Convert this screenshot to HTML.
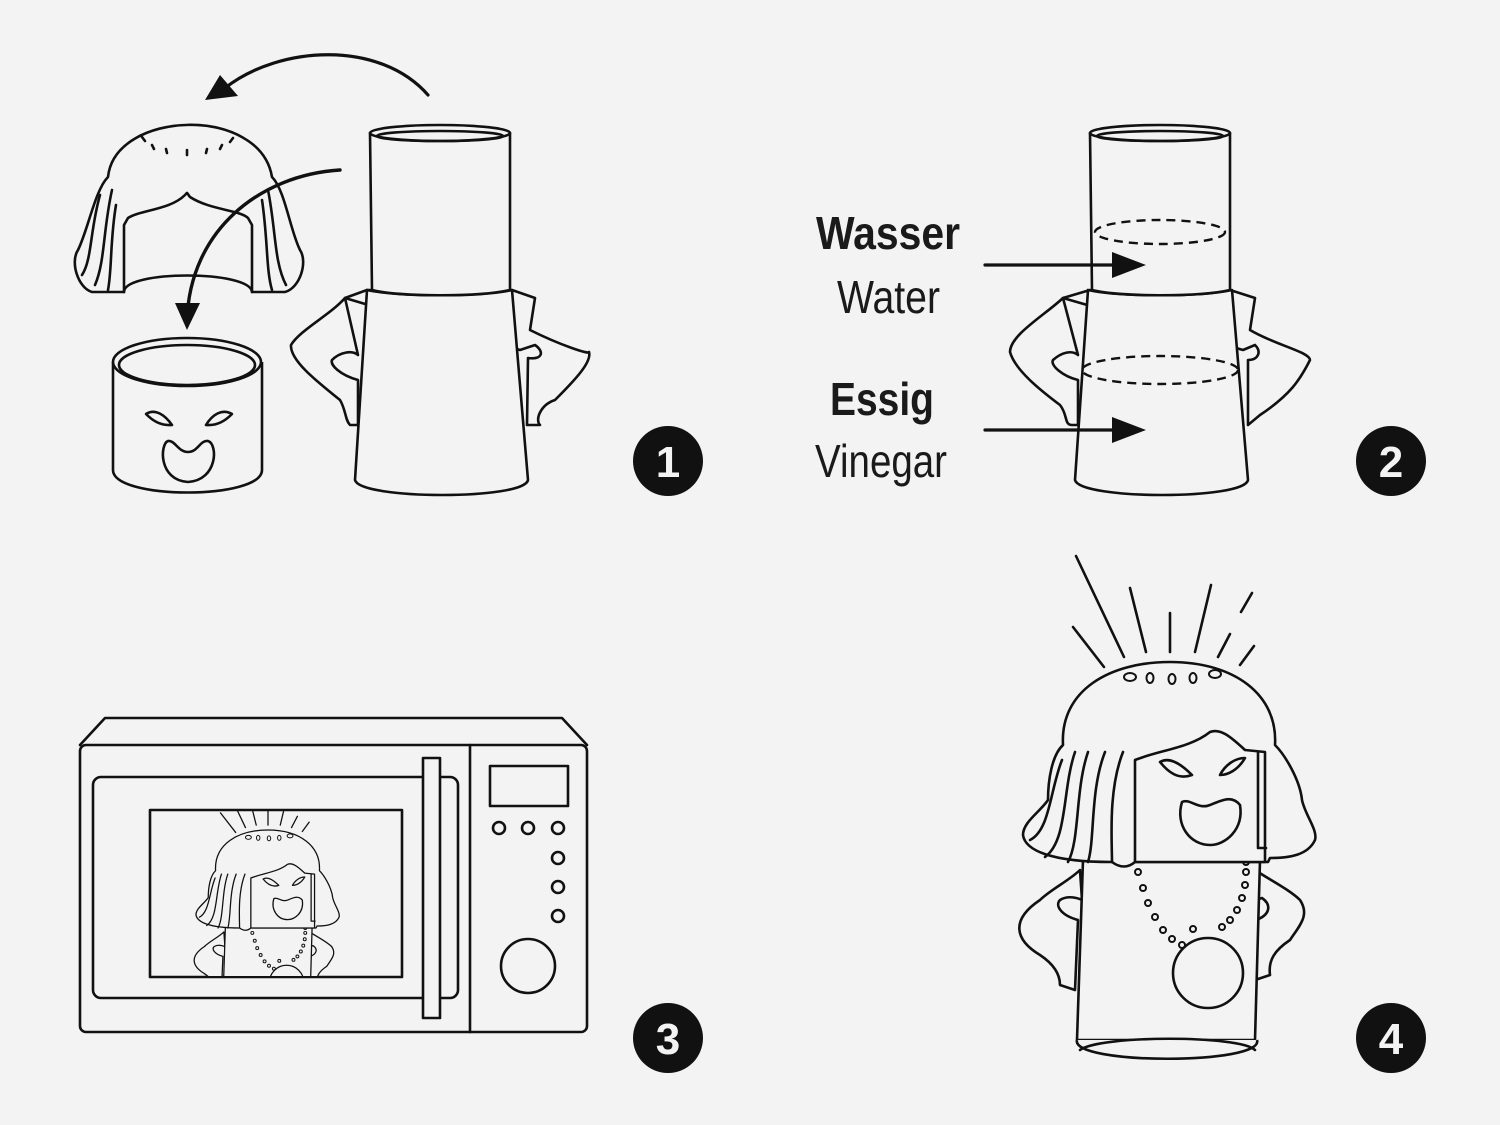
<!DOCTYPE html>
<html><head><meta charset="utf-8"><style>
html,body{margin:0;padding:0;background:#f3f3f3;}
svg{display:block}
.s{fill:none;stroke:#111;stroke-width:2.6;stroke-linejoin:round;stroke-linecap:round}
.w{fill:#f3f3f3;stroke:#111;stroke-width:2.6;stroke-linejoin:round}
.t{fill:#111;stroke:none}
.num{font-family:"Liberation Sans",sans-serif;font-weight:bold;font-size:44px;fill:#f3f3f3;text-anchor:middle}
.lbl{font-family:"Liberation Sans Narrow","Liberation Sans",sans-serif;fill:#1a1a1a}
</style></head><body>
<svg width="1500" height="1125" viewBox="0 0 1500 1125" xmlns="http://www.w3.org/2000/svg">
<defs><clipPath id="win"><rect x="151" y="811" width="250" height="165"/></clipPath></defs>
<rect width="1500" height="1125" fill="#f3f3f3"/>

<!-- PANEL 1 -->
<path class="s" d="M428,95 C380,40 280,45 225,88" style="stroke-width:3.2"/>
<polygon class="t" points="205,100 220,75 238,96"/>
<path class="w" d="M108,177 C115,110 260,105 272,177 C285,190 290,230 300,250 C308,262 300,288 285,292 L252,292 L252,225 L248,218 C240,210 210,210 190,197 C186,192 188,192 185,195 C170,210 140,210 128,218 L124,225 L124,292 L92,292 C78,288 70,262 78,250 C88,230 95,190 108,177 Z"/>
<path class="s" d="M124,292 C124,270 250,270 252,292"/>
<path class="s" d="M100,195 C90,230 92,260 82,275 M112,190 C103,230 105,262 95,285 M116,205 C110,240 112,270 108,290 M268,190 C276,230 274,262 286,285 M262,200 C268,240 266,270 272,290"/>
<path class="s" d="M142,137 l3,4 M152,145 l2,4 M166,149 l1,4 M187,150 l0,5 M207,149 l-1,4 M222,145 l-2,4 M233,138 l-3,4"/>
<path class="s" d="M340,170 C260,175 190,230 187,320" style="stroke-width:3.4"/>
<polygon class="t" points="175,303 200,303 187,330"/>
<path class="w" d="M113,362 L113,470 C113,500 262,500 262,470 L262,362"/>
<ellipse class="w" cx="187" cy="362" rx="74" ry="24"/>
<ellipse class="s" cx="187" cy="365" rx="68" ry="20"/>
<path class="s" d="M146,414 C155,408 165,415 172,425 C160,426 152,420 146,414 Z M232,414 C222,408 212,415 206,425 C218,426 226,420 232,414 Z"/>
<path class="s" d="M168,441 C175,440 178,452 188,452 C198,452 200,440 208,441 C218,444 218,480 188,482 C158,480 160,444 168,441 Z"/>
<path class="w" d="M345,298 L367,290 L512,290 L535,298 L530,330 C560,345 590,355 589,352 C592,362 575,380 555,400 C540,405 535,420 540,425 L527,425 L528,358 C542,360 545,352 535,345 L520,350 Z"/>
<path class="w" d="M345,298 C330,315 300,330 291,345 C290,360 315,380 340,400 C346,410 345,420 350,425 L358,425 L358,380 C340,375 330,365 332,360 C340,352 352,350 358,355 Z"/>
<path class="w" d="M367,290 L355,480 C360,500 525,500 528,480 L512,290 C480,297 400,297 367,290 Z"/>
<path class="w" d="M370,133 L372,290 C400,297 480,297 510,290 L510,133 Z"/>
<ellipse class="w" cx="440" cy="133" rx="70" ry="8"/>
<ellipse class="s" cx="440" cy="136" rx="63" ry="5"/>
<circle cx="668" cy="461" r="35" fill="#111"/>
<text class="num" x="668" y="477">1</text>

<!-- PANEL 2 -->
<path class="w" d="M1063,298 L1090,290 L1230,290 L1255,298 L1250,330 C1275,345 1310,352 1310,360 C1300,380 1290,395 1260,415 L1248,425 L1248,360 C1258,360 1262,352 1255,345 L1243,350 Z"/>
<path class="w" d="M1063,298 C1045,315 1010,335 1010,352 C1015,370 1040,390 1060,405 C1068,415 1064,425 1072,425 L1078,425 L1078,380 C1062,376 1050,365 1053,360 C1062,352 1072,350 1078,355 Z"/>
<path class="w" d="M1088,290 L1075,480 C1080,500 1245,500 1248,480 L1232,290 C1200,297 1120,297 1088,290 Z"/>
<path class="w" d="M1090,133 L1092,290 C1120,297 1200,297 1230,290 L1230,133 Z"/>
<ellipse class="w" cx="1160" cy="133" rx="70" ry="8"/>
<ellipse class="s" cx="1160" cy="136" rx="63" ry="5"/>
<ellipse cx="1160" cy="232" rx="65" ry="12" fill="none" stroke="#111" stroke-width="2.4" stroke-dasharray="9,6"/>
<ellipse cx="1160" cy="370" rx="78" ry="14" fill="none" stroke="#111" stroke-width="2.4" stroke-dasharray="9,6"/>
<text class="lbl" x="816" y="249" font-size="46" font-weight="bold" textLength="144" lengthAdjust="spacingAndGlyphs">Wasser</text>
<text class="lbl" x="837" y="313" font-size="46" textLength="103" lengthAdjust="spacingAndGlyphs">Water</text>
<text class="lbl" x="830" y="415" font-size="46" font-weight="bold" textLength="104" lengthAdjust="spacingAndGlyphs">Essig</text>
<text class="lbl" x="815" y="477" font-size="46" textLength="132" lengthAdjust="spacingAndGlyphs">Vinegar</text>
<line class="s" x1="985" y1="265" x2="1120" y2="265" style="stroke-width:3.2"/>
<polygon class="t" points="1112,252 1146,265 1112,278"/>
<line class="s" x1="985" y1="430" x2="1120" y2="430" style="stroke-width:3.2"/>
<polygon class="t" points="1112,417 1146,430 1112,443"/>
<circle cx="1391" cy="461" r="35" fill="#111"/>
<text class="num" x="1391" y="477">2</text>

<!-- PANEL 3 microwave -->
<path class="s" d="M80,745 L105,718 L562,718 L587,745"/>
<rect class="s" x="80" y="745" width="507" height="287" rx="6"/>
<rect class="s" x="93" y="777" width="365" height="221" rx="8"/>
<rect class="s" x="150" y="810" width="252" height="167"/>
<rect class="w" x="423" y="758" width="17" height="260"/>
<line class="s" x1="470" y1="745" x2="470" y2="1032"/>
<rect class="s" x="490" y="766" width="78" height="40"/>
<g class="s"><circle cx="499" cy="828" r="6"/><circle cx="528" cy="828" r="6"/><circle cx="558" cy="828" r="6"/><circle cx="558" cy="858" r="6"/><circle cx="558" cy="887" r="6"/><circle cx="558" cy="916" r="6"/></g>
<circle class="s" cx="528" cy="966" r="27"/>
<g clip-path="url(#win)">
<g transform="translate(268,830) scale(0.49) translate(-1170,-662)" style="stroke-width:4.5">
<use href="#fig"/>
</g></g>
<circle cx="668" cy="1038" r="35" fill="#111"/>
<text class="num" x="668" y="1054">3</text>

<!-- PANEL 4 figure -->
<g id="fig">
<path class="s" d="M1076,556 L1124,657 M1130,588 L1146,652 M1170,613 L1170,652 M1211,585 L1195,652 M1252,593 L1241,612 M1230,634 L1218,657 M1254,646 L1240,665 M1073,627 L1104,667"/>
<path class="w" d="M1080,870 C1070,880 1050,890 1040,900 C1010,920 1015,940 1040,955 C1055,965 1060,975 1060,985 L1075,990 L1078,920 C1060,915 1055,905 1060,900 C1068,895 1078,898 1082,900 Z"/>
<path class="w" d="M1255,870 C1270,880 1290,890 1300,900 C1310,915 1300,925 1290,940 C1275,950 1268,960 1270,975 L1255,980 L1256,920 C1270,915 1272,905 1262,898 L1255,900 Z"/>
<path class="w" d="M1083,860 L1077,1040 L1255,1040 L1260,860 Z"/>
<path class="w" d="M1077,1040 C1070,1065 1265,1065 1257,1040"/>
<path class="s" d="M1080,1050 C1100,1035 1240,1035 1255,1050"/>
<circle class="s" cx="1208" cy="973" r="35"/>
<g class="s" style="stroke-width:2">
<circle cx="1138" cy="872" r="3"/><circle cx="1143" cy="888" r="3"/><circle cx="1148" cy="903" r="3"/><circle cx="1155" cy="917" r="3"/><circle cx="1163" cy="930" r="3"/><circle cx="1172" cy="939" r="3"/><circle cx="1182" cy="945" r="3"/><circle cx="1193" cy="929" r="3"/><circle cx="1222" cy="927" r="3"/><circle cx="1230" cy="920" r="3"/><circle cx="1237" cy="910" r="3"/><circle cx="1242" cy="898" r="3"/><circle cx="1245" cy="885" r="3"/><circle cx="1246" cy="872" r="3"/><circle cx="1246" cy="862" r="3"/></g>
<path class="w" d="M1063,745 C1060,690 1110,662 1170,662 C1235,662 1278,695 1275,745 C1285,755 1300,780 1302,800 C1305,815 1318,830 1315,840 C1308,855 1290,858 1270,858 L1268,862 L1135,862 C1128,868 1120,868 1112,862 C1050,862 1025,850 1023,835 C1023,822 1040,812 1048,800 C1048,780 1052,755 1063,745 Z"/>
<path class="w" d="M1135,760 C1160,750 1190,748 1210,732 C1220,728 1230,736 1245,750 L1265,752 L1265,862 L1135,862 Z"/>
<path class="s" d="M1258,752 L1258,848 L1266,848"/>
<path class="s" d="M1062,760 C1050,790 1050,830 1030,840 M1075,752 C1062,790 1068,840 1045,857 M1088,752 C1075,790 1080,840 1068,862 M1105,752 C1090,790 1095,840 1088,862 M1123,752 C1108,790 1112,840 1112,862"/>
<path class="s" d="M1160,762 C1170,756 1182,765 1192,775 C1178,780 1168,772 1160,762 Z M1245,758 C1238,770 1228,775 1220,775 C1225,765 1235,758 1245,758 Z"/>
<path class="s" d="M1182,802 C1190,798 1198,810 1210,805 C1222,800 1232,795 1240,805 C1244,830 1225,845 1210,845 C1190,845 1175,825 1182,802 Z"/>
<g class="s" style="stroke-width:2"><ellipse cx="1130" cy="677" rx="6" ry="4"/><ellipse cx="1150" cy="678" rx="3.5" ry="5"/><ellipse cx="1172" cy="679" rx="3.5" ry="5"/><ellipse cx="1193" cy="678" rx="3.5" ry="5"/><ellipse cx="1215" cy="674" rx="6" ry="4"/></g>
</g>
<circle cx="1391" cy="1038" r="35" fill="#111"/>
<text class="num" x="1391" y="1054">4</text>
</svg>
</body></html>
